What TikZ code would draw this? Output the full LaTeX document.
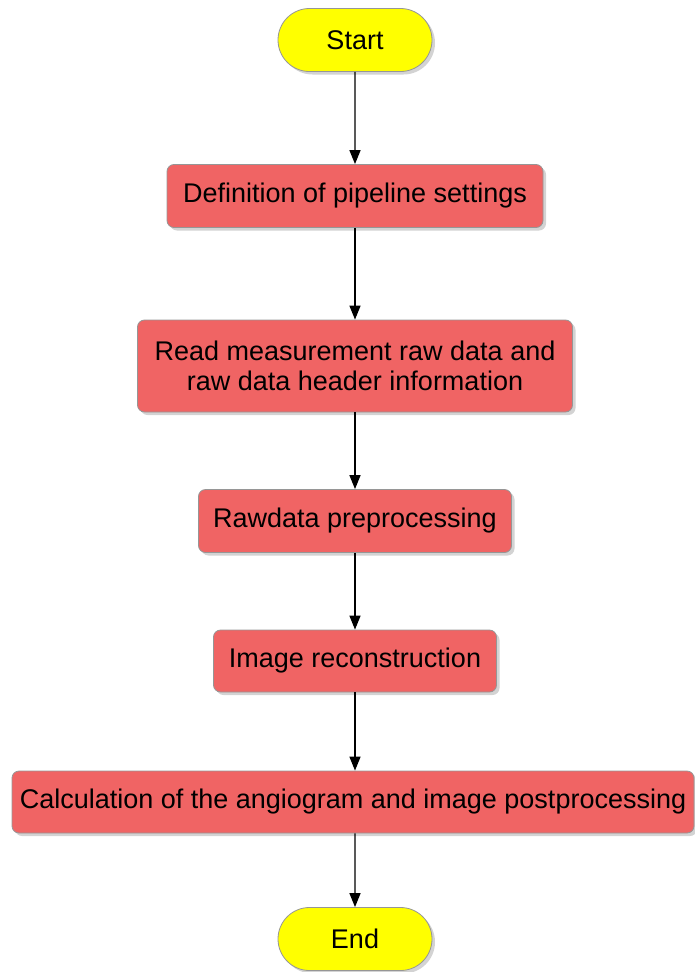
\documentclass[tikz,border=0pt]{standalone}
\usepackage{fontspec}
\setmainfont{Liberation Sans}
\usetikzlibrary{arrows.meta,shadows,shapes.misc}
\definecolor{boxred}{RGB}{240,100,100}
\definecolor{boxyellow}{RGB}{255,255,0}
\definecolor{boxline}{RGB}{150,150,150}
\begin{document}
\begin{tikzpicture}[x=1pt, y=-1pt,
        every node/.style={font=\fontsize{27}{30}\selectfont, inner sep=0pt, align=center},
        process/.style={draw=boxline, fill=boxred, rounded corners=7pt, line width=0.8pt,
            drop shadow={shadow xshift=3pt, shadow yshift=-3pt, opacity=0.35}},
        terminal/.style={draw=boxline, fill=boxyellow, rounded rectangle, line width=0.8pt,
            minimum width=154pt, minimum height=63pt,
            drop shadow={shadow xshift=3pt, shadow yshift=-3pt, opacity=0.35}},
        flow/.style={line width=1.4pt, -{Triangle[width=11pt, length=14pt]}}]
    \useasboundingbox (0,0) rectangle (694,972);

    \node[terminal] (start) at (355,40) {Start};
    \node[process, minimum width=376pt, minimum height=63pt] (settings) at (355,196)
        {Definition of pipeline settings};
    \node[process, minimum width=435pt, minimum height=92pt] (read) at (355,366)
        {Read measurement raw data and\\raw data header information};
    \node[process, minimum width=313pt, minimum height=63pt] (prep) at (355,521)
        {Rawdata preprocessing};
    \node[process, minimum width=283pt, minimum height=62pt] (recon) at (355,661)
        {Image reconstruction};
    \node[process, minimum width=682pt, minimum height=62pt] (angio) at (353,802)
        {Calculation of the angiogram and image postprocessing};
    \node[terminal] (end) at (355,939) {End};

    \draw[flow] (start) -- (settings);
    \draw[flow] (settings) -- (read);
    \draw[flow] (read) -- (prep);
    \draw[flow] (prep) -- (recon);
    \draw[flow] (recon) -- (recon |- angio.north);
    \draw[flow] (angio.south -| end) -- (end);
\end{tikzpicture}
\end{document}
